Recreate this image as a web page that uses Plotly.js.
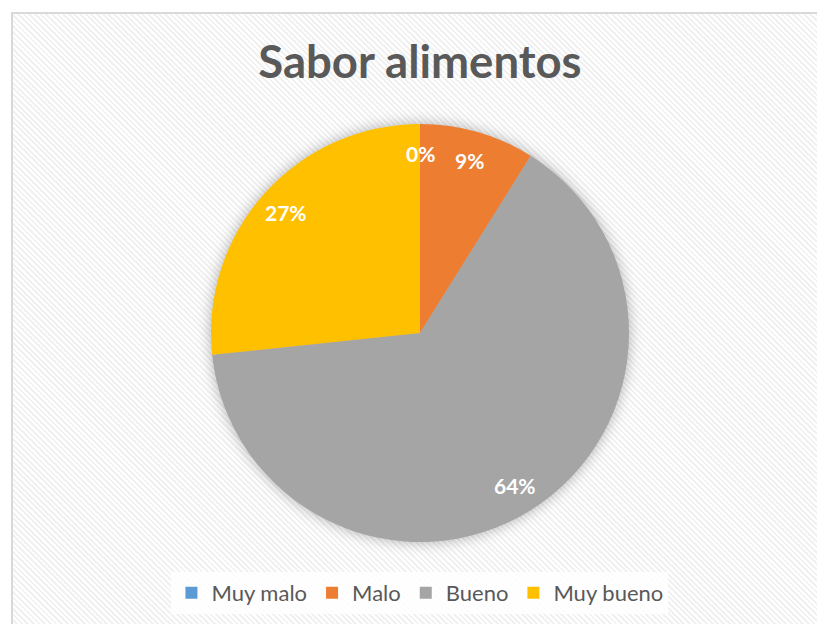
<!DOCTYPE html>
<html>
<head>
<meta charset="utf-8">
<script src="https://cdn.plot.ly/plotly-3.0.1.min.js"></script>
<style>
html,body{margin:0;padding:0;background:#fff;}
#frame{position:absolute;left:11px;top:12px;width:820px;height:620px;border:2px solid #d9d9d9;box-sizing:border-box;
background:repeating-linear-gradient(45deg,#ffffff 0px,#ffffff 2px,#f1f1f1 2px,#f1f1f1 4px);}
#chart{position:absolute;left:0;top:0;width:817px;height:624px;}
#chart .pielayer{filter:drop-shadow(0px 0px 7px rgba(0,0,0,0.3));}
</style>
</head>
<body>
<div id="frame"></div>
<div id="chart"></div>
<script>
var categories = ["Muy malo", "Malo", "Bueno", "Muy bueno"];
var values = [0, 4, 29, 12];
var colors = ["#5b9bd5", "#ed7d31", "#a5a5a5", "#ffc000"];

var W = 817, H = 624;
var cxPx = 420, cyPx = 333, R = 209;
var dom = {x:[(cxPx-R)/W,(cxPx+R)/W], y:[1-(cyPx+R)/H, 1-(cyPx-R)/H]};

var total = values.reduce(function(a,b){return a+b;},0);
var annotations = [];
var cum = 0;
for (var i=0;i<values.length;i++){
  var frac = values[i]/total;
  var mid = (cum + frac/2)*2*Math.PI;
  cum += frac;
  var r = 0.86*R;
  annotations.push({
    xref:'paper', yref:'paper',
    x:(cxPx + r*Math.sin(mid))/W,
    y:1-(cyPx - r*Math.cos(mid))/H,
    text: Math.round(frac*100)+'%',
    showarrow:false,
    xanchor:'center', yanchor:'middle',
    font:{family:'Lato, "Open Sans", sans-serif', size:21, color:'#ffffff', weight:'bold'}
  });
}

var trace = {
  type:'pie',
  labels: categories,
  values: values,
  sort:false,
  direction:'clockwise',
  rotation:0,
  marker:{colors:colors, line:{color:'rgba(0,0,0,0)', width:0}},
  textinfo:'none',
  hoverinfo:'label+percent',
  domain: dom,
  showlegend:true
};

var layout = {
  width: W, height: H,
  margin:{l:0,r:0,t:0,b:0},
  paper_bgcolor:'rgba(0,0,0,0)',
  plot_bgcolor:'rgba(0,0,0,0)',
  title:{text:'<b>Sabor alimentos</b>', x:0.514, xanchor:'center', y:1-62/H, yanchor:'middle',
    font:{family:'Lato, "Open Sans", sans-serif', size:45.5, color:'#595959'}},
  legend:{orientation:'h', x:0.514, xanchor:'center', y:1-593/H, yanchor:'middle',
    bgcolor:'rgba(255,255,255,0.85)', borderwidth:0,
    font:{family:'Lato, "Open Sans", sans-serif', size:22, color:'#595959'},
    itemclick:false, traceorder:'normal'},
  annotations: annotations
};

Plotly.newPlot('chart',[trace],layout,{displayModeBar:false, staticPlot:true});
</script>
</body>
</html>
